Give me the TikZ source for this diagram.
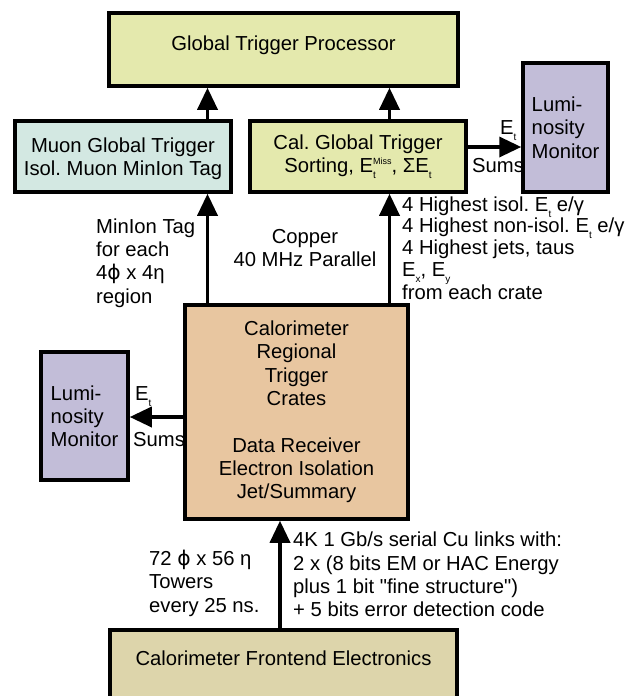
\documentclass[tikz,border=0pt]{standalone}
\usepackage{fontspec}
\setmainfont{Liberation Sans}
\newfontfamily\lsans{Liberation Sans}
\newfontfamily\dejavu{DejaVu Sans}
\usetikzlibrary{arrows.meta}
\frenchspacing
\definecolor{gtpcol}{RGB}{228,233,173}
\definecolor{muoncol}{RGB}{211,232,226}
\definecolor{lumicol}{RGB}{194,189,216}
\definecolor{cratecol}{RGB}{232,198,160}
\definecolor{fecol}{RGB}{221,213,171}
\newcommand\mysub[1]{\raisebox{-6pt}{\fontsize{10}{10}\selectfont #1}}
\newcommand\mysup[1]{\raisebox{7.5pt}{\fontsize{9}{9}\selectfont #1}}
\newcommand\Et{E\mysub{t}}
\newcommand\myphi{{\dejavu ϕ}}
\begin{document}
\begin{tikzpicture}[x=1pt,y=-1pt,
  every node/.style={font=\lsans\frenchspacing\fontsize{20.25pt}{23.3pt}\selectfont},
  box/.style={draw, line width=3.5pt, inner sep=0pt, align=center},
  arr/.style={line width=3.5pt, -{Triangle[length=22pt,width=20pt]}},
  lbl/.style={inner sep=0pt}]
\useasboundingbox (0,0) rectangle (628,696);
\clip (0,0) rectangle (628,696);
% boxes
\node[box, fill=gtpcol, minimum width=349pt, minimum height=73pt, text height=14.7pt, text depth=13.7pt] (gtp) at (283.5,49.5) {Global Trigger Processor};
\node[box, fill=muoncol, minimum width=216pt, minimum height=71pt, text depth=0pt] (muon) at (123,156.5) {Muon Global Trigger\\Isol. Muon MinIon Tag};
\node[box, fill=gtpcol, minimum width=216pt, minimum height=71pt] (calgt) at (358,156.5) {Cal. Global Trigger\\Sorting, E\rlap{\mysub{t}}\mysup{Miss}, ΣE\mysub{t}};
\node[box, fill=lumicol, minimum width=85pt, minimum height=129pt, align=left, text depth=-5pt] (lumiR) at (565.5,127.5) {Lumi-\\nosity\\Monitor};
\node[box, fill=cratecol, minimum width=223pt, minimum height=214pt] (crates) at (296.5,412) {Calorimeter\\Regional\\Trigger\\Crates\\[23.3pt]Data Receiver\\Electron Isolation\\Jet/Summary};
\node[box, fill=lumicol, minimum width=87pt, minimum height=128pt, align=left, text depth=-4pt] (lumiL) at (84.5,416) {Lumi-\\nosity\\Monitor};
\node[box, fill=fecol, minimum width=347pt, minimum height=70pt, text height=14.7pt, text depth=14.7pt] (fe) at (283.5,665) {Calorimeter Frontend Electronics};
% texts
\node[lbl, align=left, anchor=west] (tagtxt) at (96,262.9) {MinIon Tag\\for each\\4\myphi{} x 4η\\region};
\node[lbl, align=center] (coptxt) at (305,248.2) {Copper\\40 MHz Parallel};
\node[lbl, align=left, anchor=west, font=\lsans\frenchspacing\fontsize{20.25pt}{21.7pt}\selectfont] (sumtxt) at (402,248.2) {4 Highest isol. \Et{} e/γ\\4 Highest non-isol. \Et{} e/γ\\4 Highest jets, taus\\E\mysub{x}, E\mysub{y}\\from each crate};
\node[lbl, align=left, anchor=west] (towtxt) at (149,583.2) {72 \myphi{} x 56 η\\Towers\\every 25 ns.};
\node[lbl, align=left, anchor=west] (linktxt) at (293,574.6) {4K 1 Gb/s serial Cu links with:\\2 x (8 bits EM or HAC Energy\\plus 1 bit "fine structure")\\+ 5 bits error detection code};
\node[lbl, anchor=base west] (etR) at (500,134) {\Et};
\node[lbl, anchor=base west] (sumsR) at (472,172) {Sums};
\node[lbl, anchor=base west] (etL) at (135,400) {\Et};
\node[lbl, anchor=base west] (sumsL) at (133,446) {Sums};
% connectors
\coordinate (xa) at (207.5,0);
\coordinate (xb) at (389.5,0);
\coordinate (xc) at (280,0);
\coordinate (ya) at (0,147);
\coordinate (yb) at (0,417);
\draw[arr] (muon.north -| xa) -- (gtp.south -| xa);
\draw[arr] (calgt.north -| xb) -- (gtp.south -| xb);
\draw[arr] (calgt.east |- ya) -- (lumiR.west |- ya);
\draw[arr] (crates.north -| xa) -- (muon.south -| xa);
\draw[arr] (crates.north -| xb) -- (calgt.south -| xb);
\draw[arr] (crates.west |- yb) -- (lumiL.east |- yb);
\draw[arr] (fe.north -| xc) -- (crates.south -| xc);
\end{tikzpicture}
\end{document}
